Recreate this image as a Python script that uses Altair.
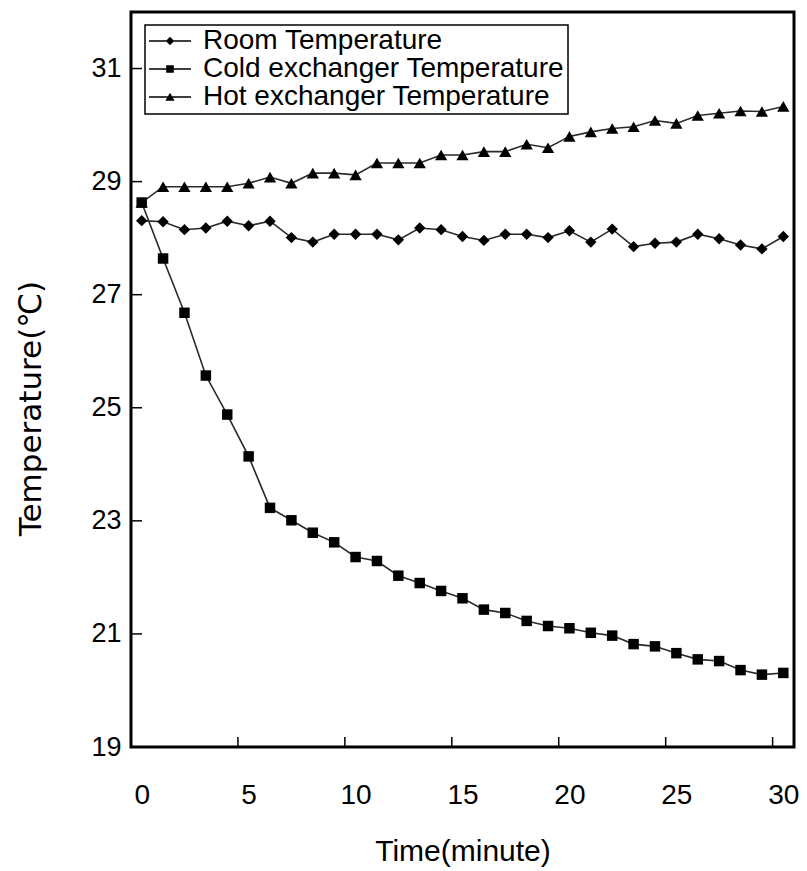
import altair as alt
import pandas as pd

minutes = list(range(31))
series_names = ["Room Temperature", "Cold exchanger Temperature", "Hot exchanger Temperature"]
room = [28.31, 28.29, 28.15, 28.18, 28.30, 28.22, 28.30, 28.01, 27.93, 28.07, 28.07, 28.07, 27.97, 28.18, 28.15,
        28.03, 27.96, 28.07, 28.07, 28.01, 28.13, 27.93, 28.16, 27.85, 27.91, 27.93, 28.07, 27.99, 27.88, 27.81, 28.03]
cold = [28.63, 27.64, 26.68, 25.57, 24.88, 24.14, 23.23, 23.01, 22.79, 22.62, 22.36, 22.29, 22.03, 21.90, 21.76,
        21.63, 21.43, 21.37, 21.23, 21.14, 21.10, 21.02, 20.97, 20.82, 20.78, 20.66, 20.55, 20.52, 20.36, 20.28, 20.31]
hot = [28.63, 28.91, 28.91, 28.91, 28.91, 28.97, 29.08, 28.97, 29.15, 29.15, 29.12, 29.33, 29.33, 29.33, 29.47,
       29.47, 29.53, 29.53, 29.66, 29.60, 29.80, 29.88, 29.94, 29.97, 30.08, 30.03, 30.17, 30.21, 30.25, 30.24, 30.33]
x_labels = [0, 5, 10, 15, 20, 25, 30]
x_tick_marks = [4.5, 9.5, 14.5, 19.5, 24.5, 29.5]
y_labels = [19, 21, 23, 25, 27, 29, 31]
y_tick_marks = [21, 23, 25, 27, 29, 31]

rows = []
for name, vals in zip(series_names, [room, cold, hot]):
    for m, v in zip(minutes, vals):
        rows.append({"minute": m, "temp": v, "series": name})
df = pd.DataFrame(rows)

W, H = 663, 735
FONT = "Liberation Sans"

x_scale = alt.Scale(domain=[-0.5, 30.5], nice=False, zero=False)
y_scale = alt.Scale(domain=[19, 32], nice=False, zero=False)

x_axis = alt.Axis(
    values=x_labels, title="Time(minute)", ticks=False, tickSize=0, domain=False, grid=False,
    labelPadding=34, labelFont=FONT, labelFontSize=28, labelColor="black",
    titleFont=FONT, titleFontSize=30, titleFontWeight="normal", titleColor="black",
    titleY=104, titleBaseline="middle")
y_axis = alt.Axis(
    values=y_labels, title="Temperature(℃)", ticks=False, tickSize=0, domain=False, grid=False,
    labelPadding=10, labelFont=FONT, labelFontSize=27, labelColor="black",
    titleFont="DejaVu Sans", titleFontSize=31, titleFontWeight="normal", titleColor="black",
    titleX=-100, titleY=396, titleBaseline="middle")


def X():
    return alt.X("minute:Q", scale=x_scale, axis=x_axis, title="Time(minute)")


def Y():
    return alt.Y("temp:Q", scale=y_scale, axis=y_axis, title="Temperature(℃)")


base = alt.Chart(df)

lines = base.mark_line(color="#2a2a2a", strokeWidth=1.6).encode(
    x=X(), y=Y(), detail="series:N")

pt_room = base.transform_filter(alt.datum.series == series_names[0]).mark_point(
    shape="diamond", filled=True, color="black", opacity=1, size=130).encode(x=X(), y=Y())
pt_cold = base.transform_filter(alt.datum.series == series_names[1]).mark_point(
    shape="square", filled=True, color="black", opacity=1, size=110).encode(x=X(), y=Y())
pt_hot = base.transform_filter(alt.datum.series == series_names[2]).mark_point(
    shape="triangle-up", filled=True, color="black", opacity=1, size=150).encode(x=X(), y=Y())

bar = "M-1,-0.036H1V0.036H-1Z"
legend_shapes = [
    bar + "M-0.2,0L0,-0.2L0.2,0L0,0.2Z",
    bar + "M-0.18,-0.18H0.18V0.18H-0.18Z",
    bar + "M0,-0.2L0.22,0.18H-0.22Z",
]
legend_layer = base.transform_filter("false").mark_point(
    filled=True, color="black", opacity=1, size=1764).encode(
    x=X(), y=Y(),
    shape=alt.Shape("series:N", scale=alt.Scale(domain=series_names, range=legend_shapes),
                    legend=alt.Legend(
                        title=None, orient="none", legendX=14, legendY=13,
                        strokeColor="black", fillColor="white", padding=3,
                        clipHeight=26, rowPadding=0, labelLimit=0,
                        labelFont=FONT, labelFontSize=28, labelColor="black",
                        labelOffset=11, symbolSize=1764,
                        symbolFillColor="black", symbolOpacity=1)))

xt = pd.DataFrame({"minute": x_tick_marks})
yt = pd.DataFrame({"temp": y_tick_marks})
x_ticks = alt.Chart(xt).mark_rule(color="black", strokeWidth=1.5).encode(
    x=X(), y=alt.value(H), y2=alt.value(H - 10))
y_ticks = alt.Chart(yt).mark_rule(color="black", strokeWidth=1.5).encode(
    y=Y(), x=alt.value(0), x2=alt.value(11))

chart = alt.layer(lines, x_ticks, y_ticks, pt_room, pt_cold, pt_hot, legend_layer).properties(
    width=W, height=H,
    autosize=alt.AutoSizeParams(type="none"),
    padding={"left": 123, "top": 4, "right": 5, "bottom": 122},
    background="white",
).configure_view(stroke="black", strokeWidth=3).configure_legend(strokeWidth=1.5)

chart.save("out.html", embed_options={"renderer": "svg", "actions": False})
